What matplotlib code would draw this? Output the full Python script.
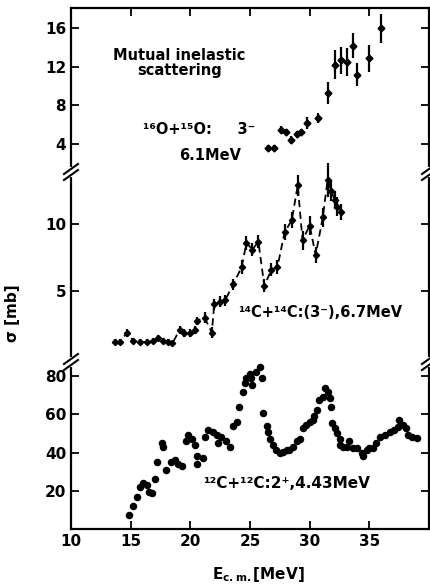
import numpy as np
import matplotlib
matplotlib.use("Agg")
import matplotlib.pyplot as plt
from matplotlib.lines import Line2D

# 16O + 16O, 3-, 6.1 MeV (top panel)
e_o = [26.5, 27.0, 27.6, 28.0, 28.4, 28.9, 29.3, 29.8, 30.7, 31.5,
       32.1, 32.6, 33.1, 33.6, 34.0, 35.0, 36.0]
s_o = [3.6, 3.6, 5.5, 5.2, 4.4, 5.0, 5.2, 6.2, 6.7, 9.3,
       12.2, 12.7, 12.5, 14.2, 11.2, 12.9, 16.0]
err_o = [0.3, 0.3, 0.4, 0.4, 0.4, 0.4, 0.4, 0.6, 0.5, 1.1,
         1.5, 1.4, 1.5, 1.3, 1.2, 1.4, 1.5]

# 14C + 14C, (3-), 6.7 MeV (middle panel)
e_c14 = [13.7, 14.1, 14.7, 15.2, 15.8, 16.4, 16.9, 17.3, 17.7, 18.1, 18.5,
         19.1, 19.5, 20.0, 20.4, 20.6, 21.2, 21.8, 22.0, 22.5, 22.9,
         23.6, 24.3, 24.7, 25.2, 25.7, 26.2, 26.8, 27.3, 27.9, 28.5,
         29.0, 29.4, 30.0, 30.5, 31.1, 31.5, 31.8, 32.1, 32.3, 32.6]
s_c14 = [1.2, 1.2, 1.9, 1.3, 1.2, 1.2, 1.3, 1.5, 1.3, 1.2, 1.1,
         2.1, 1.9, 1.9, 2.1, 2.8, 3.0, 1.9, 4.0, 4.2, 4.3,
         5.5, 6.8, 8.6, 8.1, 8.7, 5.4, 6.6, 6.8, 9.4, 10.3,
         12.9, 8.8, 9.9, 7.7, 10.5, 13.3, 12.5, 11.8, 11.3, 10.9]
err_c14 = [0.2, 0.2, 0.3, 0.2, 0.2, 0.2, 0.2, 0.2, 0.2, 0.2, 0.2,
           0.3, 0.3, 0.3, 0.3, 0.3, 0.4, 0.4, 0.4, 0.4, 0.4,
           0.4, 0.5, 0.5, 0.5, 0.5, 0.5, 0.5, 0.5, 0.6, 0.6,
           0.8, 0.7, 0.7, 0.6, 0.7, 1.3, 0.8, 0.7, 0.7, 0.6]

# 12C + 12C, 2+, 4.43 MeV (bottom panel)
e_c12 = [14.9, 15.2, 15.5, 15.8, 16.0, 16.4, 16.5, 16.8, 17.0, 17.2,
         17.6, 17.7, 18.0, 18.4, 18.7, 19.0, 19.3, 19.6, 19.8, 20.1,
         20.4, 20.6, 20.6, 21.1, 21.2, 21.5, 21.9, 22.2, 22.3, 22.6,
         23.0, 23.3, 23.6, 23.9, 24.1, 24.4, 24.6, 24.7, 25.0, 25.1,
         25.2, 25.5, 25.8, 26.0, 26.1, 26.4, 26.5, 26.7, 26.9, 27.2,
         27.5, 27.8, 28.1, 28.3, 28.6, 28.9, 29.2, 29.4, 29.7, 30.0,
         30.3, 30.4, 30.6, 30.8, 31.1, 31.3, 31.5, 31.7, 31.8, 31.9,
         32.1, 32.3, 32.5, 32.5, 32.8, 33.1, 33.3, 33.6, 34.0, 34.4,
         34.5, 34.8, 35.0, 35.3, 35.6, 35.9, 36.3, 36.7, 37.1, 37.4,
         37.5, 37.8, 38.1, 38.2, 38.6, 39.0]
s_c12 = [7.5, 11.8, 17, 22, 24, 23, 19.6, 19, 26, 35,
         45, 43, 31, 35, 36, 34, 33, 46, 49, 47,
         44, 38, 34, 37, 48, 52, 51, 49, 45, 48,
         46, 43, 54, 56, 64, 72, 76.5, 79, 81, 79,
         75.5, 82, 85, 79, 61, 54, 51, 47, 44, 41.5,
         40, 40.5, 41.5, 41.5, 43, 46, 47, 53, 54.5, 56,
         57, 59, 62.5, 67.5, 69, 74, 72, 68.5, 64, 55.5,
         53, 50.5, 47, 44, 43, 43, 46, 42.5, 42.5, 40,
         38, 41.5, 42.5, 42.5, 45, 48, 49, 51, 52, 53.5,
         57, 54.5, 53, 49, 48, 47.5]

x_ticks = [10, 15, 20, 25, 30, 35]
W, H = 430, 586


def fx(px):
    return px / W


def fy(py):
    return 1 - py / H


fig = plt.figure(figsize=(W / 100, H / 100), dpi=100)
left, right = 71, 429
panels = [(8, 172), (172, 362), (362, 529)]  # pixel top/bottom of each panel
axes = []
for i, (t, b) in enumerate(panels):
    ax = fig.add_axes([fx(left), fy(b), fx(right - left), (b - t) / H])
    ax.set_xlim(10, 40)
    ax.set_xticks(x_ticks)
    ax.tick_params(direction="in", length=6, width=1.3, labelsize=11,
                   top=(i == 0), bottom=(i == 2), right=True,
                   labelbottom=(i == 2))
    for sp in ax.spines.values():
        sp.set_linewidth(1.6)
    if i > 0:
        ax.spines["top"].set_visible(False)
    if i < 2:
        ax.spines["bottom"].set_visible(False)
    ax.patch.set_alpha(0)
    axes.append(ax)

ax_o, ax_c14, ax_c12 = axes

ax_o.set_ylim(1.1, 18.1)
ax_o.set_yticks([4, 8, 12, 16])
ax_o.errorbar(e_o, s_o, yerr=err_o, fmt="D", ms=3.5, color="black",
              ecolor="black", elinewidth=1.6, capsize=0, clip_on=False)

ax_c14.set_ylim(-0.3, 13.9)
ax_c14.set_yticks([5, 10])
ax_c14.plot(e_c14, s_c14, "--", color="black", lw=1.3, dashes=(4, 2.5))
ax_c14.errorbar(e_c14, s_c14, yerr=err_c14, fmt="D", ms=3.2, color="black",
                ecolor="black", elinewidth=1.6, capsize=0, clip_on=False)

ax_c12.set_ylim(0, 87.5)
ax_c12.set_yticks([20, 40, 60, 80])
ax_c12.plot(e_c12, s_c12, "o", ms=4.4, color="black", clip_on=False)

for ax in axes:
    for lab in ax.get_xticklabels() + ax.get_yticklabels():
        lab.set_fontweight("bold")

# break marks on the left and right spines
for py in (172, 362):
    for px in (left, right):
        gap = Line2D([fx(px), fx(px)], [fy(py - 3), fy(py + 3)],
                     transform=fig.transFigure, color="white", lw=3)
        fig.add_artist(gap)
        for off in (-3, 3):
            mark = Line2D([fx(px - 7), fx(px + 7)],
                          [fy(py + off + 5), fy(py + off - 5)],
                          transform=fig.transFigure, color="black", lw=1.5)
            fig.add_artist(mark)

# labels
ax_o.text(19.1, 12.4, "Mutual inelastic\nscattering", ha="center", va="center",
          fontsize=10.5, fontweight="bold", linespacing=1.0)
ax_o.text(16.0, 5.5, "¹⁶O+¹⁵O:     3⁻", ha="left", va="center",
          fontsize=10.5, fontweight="bold")
ax_o.text(21.7, 2.8, "6.1MeV", ha="center", va="center",
          fontsize=10.5, fontweight="bold")
ax_c14.text(24.0, 3.4, "¹⁴C+¹⁴C:(3⁻),6.7MeV", ha="left", va="center",
            fontsize=10.5, fontweight="bold")
ax_c12.text(21.1, 23.8, "¹²C+¹²C:2⁺,4.43MeV", ha="left", va="center",
            fontsize=11, fontweight="bold")

fig.text(fx(12), fy(313), "σ [mb]", rotation=90, ha="center", va="center",
         fontsize=11, fontweight="bold")
fig.text(fx(258), fy(574), r"$\mathbf{E_{c.m.}}$[MeV]", ha="center",
         va="center", fontsize=11, fontweight="bold")

fig.savefig("out.png", dpi=100)
